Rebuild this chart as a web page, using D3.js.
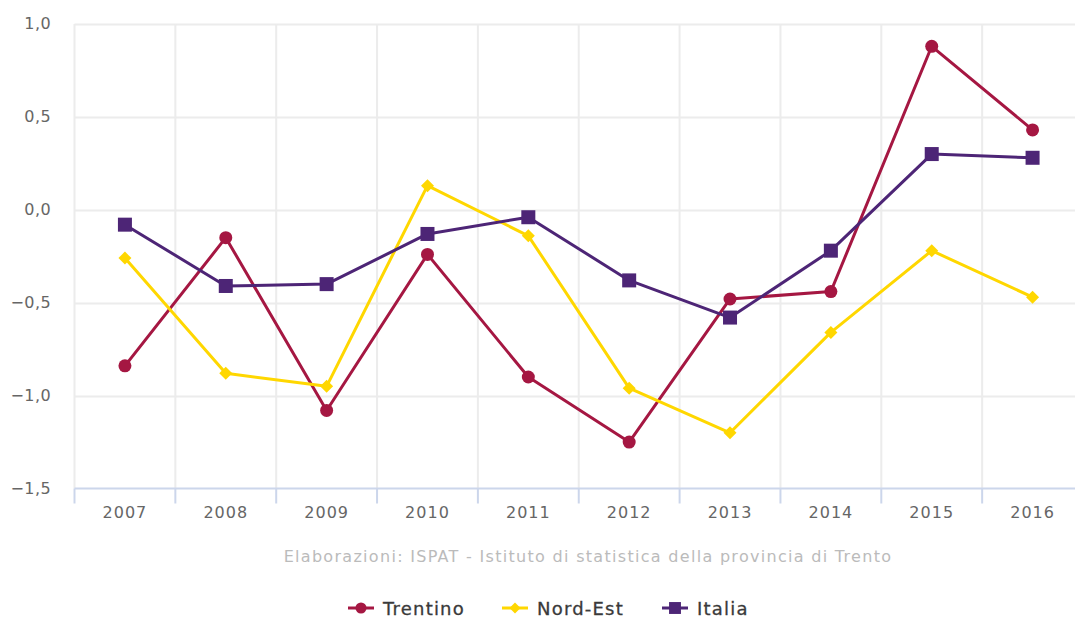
<!DOCTYPE html>
<html>
<head>
<meta charset="utf-8">
<script src="https://cdn.jsdelivr.net/npm/d3@7"></script>
<style>
  body { margin: 0; background: #fff; }
  svg text { font-family: 'DejaVu Sans', Verdana, sans-serif; }
</style>
</head>
<body>
<div id="chart"></div>
<script>
// dati
const years = ['2007', '2008', '2009', '2010', '2011', '2012', '2013', '2014', '2015', '2016'];
const trentino = [-0.84, -0.15, -1.08, -0.24, -0.90, -1.25, -0.48, -0.44, 0.88, 0.43];
const nordEst  = [-0.26, -0.88, -0.95, 0.13, -0.14, -0.96, -1.20, -0.66, -0.22, -0.47];
const italia   = [-0.08, -0.41, -0.40, -0.13, -0.04, -0.38, -0.58, -0.22, 0.30, 0.28];
const yTicks = [1.0, 0.5, 0.0, -0.5, -1.0, -1.5];
const seriesNames = ['Trentino', 'Nord-Est', 'Italia'];
const credits = 'Elaborazioni: ISPAT - Istituto di statistica della provincia di Trento';

// dimensioni
const W = 1075, H = 621;
const PLOT = { left: 74.5, right: 1083, top: 24, bottom: 488.5 };

const series = [
  { name: seriesNames[0], values: trentino, color: '#a51742', symbol: 'circle' },
  { name: seriesNames[1], values: nordEst,  color: '#ffd700', symbol: 'diamond' },
  { name: seriesNames[2], values: italia,   color: '#4d2576', symbol: 'square' }
];

const svg = d3.select('#chart').append('svg')
  .attr('width', W).attr('height', H);

const x = d3.scaleBand().domain(years).range([PLOT.left, PLOT.right]);
const y = d3.scaleLinear().domain([-1.5, 1.0]).range([PLOT.bottom, PLOT.top]);
const fmt = v => d3.format('.1f')(v).replace('.', ',').replace('-', '\u2212');

// griglia orizzontale
svg.append('g')
  .selectAll('line').data(yTicks.filter(d => d > -1.5)).join('line')
  .attr('x1', PLOT.left).attr('x2', PLOT.right)
  .attr('y1', d => Math.round(y(d)) + 0.5).attr('y2', d => Math.round(y(d)) + 0.5)
  .attr('stroke', '#ececec').attr('stroke-width', 2);

// griglia verticale
const bounds = years.map(d => x(d)).concat([PLOT.right]);
svg.append('g')
  .selectAll('line').data(bounds).join('line')
  .attr('x1', d => d).attr('x2', d => d)
  .attr('y1', PLOT.top).attr('y2', PLOT.bottom)
  .attr('stroke', '#ececec').attr('stroke-width', 2);

// asse x
svg.append('line')
  .attr('x1', PLOT.left).attr('x2', PLOT.right)
  .attr('y1', PLOT.bottom).attr('y2', PLOT.bottom)
  .attr('stroke', '#ccd6eb').attr('stroke-width', 2);
svg.append('g')
  .selectAll('line').data(bounds).join('line')
  .attr('x1', d => d).attr('x2', d => d)
  .attr('y1', PLOT.bottom).attr('y2', PLOT.bottom + 15)
  .attr('stroke', '#ccd6eb').attr('stroke-width', 2);
svg.append('g')
  .selectAll('text').data(years).join('text')
  .attr('x', d => x(d) + x.bandwidth() / 2)
  .attr('y', 518)
  .attr('text-anchor', 'middle')
  .attr('font-size', 16)
  .attr('letter-spacing', 1)
  .attr('fill', '#666')
  .text(d => d);

// asse y
svg.append('g')
  .selectAll('text').data(yTicks).join('text')
  .attr('x', 51)
  .attr('y', d => y(d) + 5)
  .attr('text-anchor', 'end')
  .attr('font-size', 16)
  .attr('letter-spacing', 0.4)
  .attr('fill', '#666')
  .text(d => fmt(d));

// simboli
function drawSymbol(g, type, color, cx, cy, s) {
  if (type === 'circle') {
    g.append('circle').attr('cx', cx).attr('cy', cy).attr('r', 6.5 * s).attr('fill', color);
  } else if (type === 'square') {
    g.append('rect').attr('x', cx - 7 * s).attr('y', cy - 7 * s)
      .attr('width', 14 * s).attr('height', 14 * s).attr('fill', color);
  } else {
    const r = 6.5 * s;
    g.append('path')
      .attr('d', `M${cx},${cy - r}L${cx + r},${cy}L${cx},${cy + r}L${cx - r},${cy}Z`)
      .attr('fill', color);
  }
}

// linee
const line = d3.line()
  .x((d, i) => x(years[i]) + x.bandwidth() / 2)
  .y(d => y(d));

series.forEach(s => {
  const g = svg.append('g');
  g.append('path')
    .attr('d', line(s.values))
    .attr('fill', 'none')
    .attr('stroke', s.color)
    .attr('stroke-width', 3)
    .attr('stroke-linejoin', 'round');
  s.values.forEach((v, i) => {
    drawSymbol(g, s.symbol, s.color, x(years[i]) + x.bandwidth() / 2, y(v), 1);
  });
});

// crediti
svg.append('text')
  .attr('x', 588).attr('y', 562)
  .attr('text-anchor', 'middle')
  .attr('font-size', 16)
  .attr('letter-spacing', 1.3)
  .attr('fill', '#bbb')
  .text(credits);

// legenda
const legendX = [348, 502, 662];
series.forEach((s, i) => {
  const g = svg.append('g');
  const lx = legendX[i], ly = 608;
  g.append('line')
    .attr('x1', lx).attr('x2', lx + 26)
    .attr('y1', ly).attr('y2', ly)
    .attr('stroke', s.color).attr('stroke-width', 3);
  drawSymbol(g, s.symbol, s.color, lx + 13, ly, 0.85);
  g.append('text')
    .attr('x', lx + 35).attr('y', ly + 6.5)
    .attr('font-size', 18)
    .attr('letter-spacing', 1.2)
    .attr('fill', '#3a3a3a')
    .attr('stroke', '#3a3a3a')
    .attr('stroke-width', 0.3)
    .text(s.name);
});
</script>
</body>
</html>
